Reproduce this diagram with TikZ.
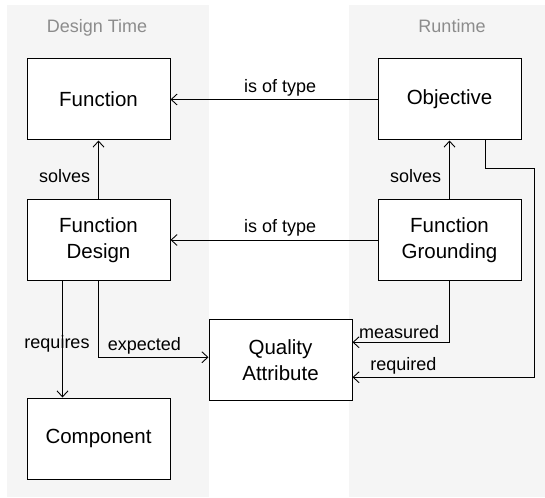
\documentclass[tikz,border=0pt]{standalone}
\usepackage{fontspec}
\setmainfont{Liberation Sans}
\usepackage{tikz}
\usetikzlibrary{arrows.meta}

\definecolor{lanegray}{HTML}{F5F5F5}
\definecolor{titlegray}{HTML}{8C8C8C}

\tikzset{
	entity/.style={draw, line width=1pt, fill=white, minimum width=143pt, minimum height=81pt,
		inner sep=0pt, align=center, font=\fontsize{20.5}{25.5}\selectfont},
	conn/.style={-{Straight Barb[length=6pt,width=11pt]}, line width=0.9pt},
	lbl/.style={font=\fontsize{18}{21}\selectfont, inner sep=3pt},
	lanetitle/.style={text=titlegray, anchor=base, font=\fontsize{18}{21}\selectfont}
}

\begin{document}
\begin{tikzpicture}[x=1pt,y=-1pt]
	\useasboundingbox (0,0) rectangle (545,497);
	
		%Lanes
		\fill[lanegray] (7,5) rectangle (209,497);
		\fill[lanegray] (349,5) rectangle (545,497);
		\node[lanetitle] (dtitle) at (97,32.5) {Design Time};
		\node[lanetitle] (rtitle) at (452,32.5) {Runtime};
		
		%Entities
		\node[entity] (func) at (98.5,99.5) {Function};
		\node[entity] (obj) at (449.5,99.5) {Objective};
		\node[entity] (fdesign) at (98.5,240) {Function\\Design};
		\node[entity] (fground) at (449.5,240) {Function\\Grounding};
		\node[entity] (qattr) at (280.5,360.25) {Quality\\Attribute};
		\node[entity] (comp) at (98.5,438.5) {Component};
		\coordinate (reqbend) at (534,168);
		
	\draw[conn] (obj.west) -- node[lbl, above, pos=0.47] {is of type} (func.east);
	\draw[conn] (fground.west) -- node[lbl, above, pos=0.47] {is of type} (fdesign.east);
	\draw[conn] (fdesign.north) -- node[lbl, left, pos=0.4, xshift=-5pt] {solves} (func.south);
	\draw[conn] (fground.north) -- node[lbl, left, pos=0.4, xshift=-5pt] {solves} (obj.south);
	
	\draw[conn] ([xshift=-36pt]fdesign.south) -- node[lbl, pos=0.54, xshift=-5.5pt] {requires} ([xshift=-36pt]comp.north);
	\draw[conn] (fdesign.south) |- node[lbl, pos=0.5, anchor=south west, xshift=6pt] {expected} ([yshift=3pt]qattr.west);
	\draw[conn] (fground.south) |- node[lbl, above, pos=0.76] {measured} ([yshift=18pt]qattr.east);
	\draw[conn] ([xshift=35.5pt]obj.south) |- (reqbend) |- node[lbl, above, pos=0.86] {required} ([yshift=-17pt]qattr.east);
\end{tikzpicture}
\end{document}
